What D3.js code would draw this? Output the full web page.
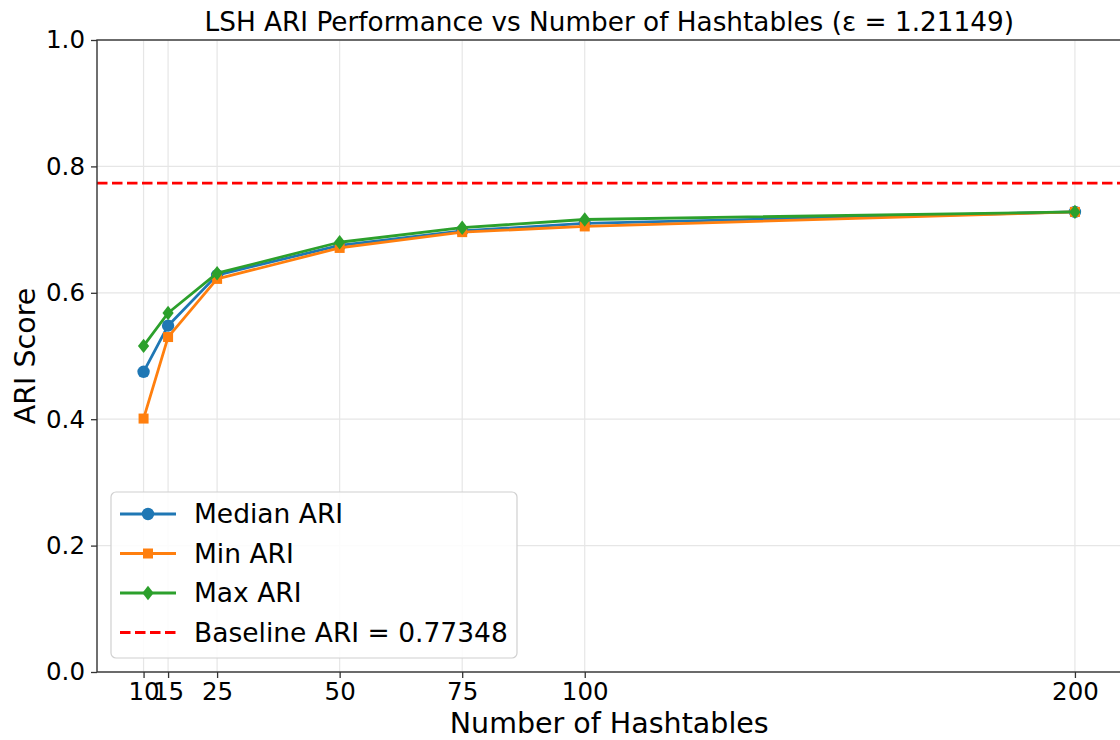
<!DOCTYPE html>
<html>
<head>
<meta charset="utf-8">
<script src="https://cdn.jsdelivr.net/npm/d3@7"></script>
<style>
  body { margin: 0; background: #fff; }
  svg { display: block; font-family: "DejaVu Sans", sans-serif; }
</style>
</head>
<body>
<div id="chart"></div>
<script>
// data
var hashtables = [10, 15, 25, 50, 75, 100, 200];
var medianARI = [0.475, 0.548, 0.628, 0.675, 0.698, 0.710, 0.728];
var minARI    = [0.401, 0.530, 0.622, 0.671, 0.696, 0.705, 0.728];
var maxARI    = [0.516, 0.568, 0.631, 0.680, 0.703, 0.716, 0.728];
var baselineARI = 0.77348;
var yTicks = [0.0, 0.2, 0.4, 0.6, 0.8, 1.0];

var width = 1120, height = 740;
var margin = {top: 40, left: 97, bottom: 68};
var plotRight = 1121.5;

var svg = d3.select("#chart").append("svg")
  .attr("width", width)
  .attr("height", height);

// matplotlib-ish 5% margins around 10..200
var x = d3.scaleLinear().domain([0.5, 209.5]).range([margin.left, plotRight]);
var y = d3.scaleLinear().domain([0, 1]).range([height - margin.bottom, margin.top]);

var gridColor = "#e6e6e6";

// grid lines
svg.append("g").selectAll("line.gx")
  .data(hashtables).enter().append("line")
  .attr("x1", d => x(d)).attr("x2", d => x(d))
  .attr("y1", y(0)).attr("y2", y(1))
  .attr("stroke", gridColor).attr("stroke-width", 1.2);

svg.append("g").selectAll("line.gy")
  .data(yTicks).enter().append("line")
  .attr("x1", x.range()[0]).attr("x2", x.range()[1])
  .attr("y1", d => y(d)).attr("y2", d => y(d))
  .attr("stroke", gridColor).attr("stroke-width", 1.2);

// baseline
svg.append("line")
  .attr("x1", x.range()[0]).attr("x2", x.range()[1])
  .attr("y1", y(baselineARI)).attr("y2", y(baselineARI))
  .attr("stroke", "#ff0000").attr("stroke-width", 2.8)
  .attr("stroke-dasharray", "10.5,4.5");

var series = [
  {name: "Median ARI", values: medianARI, color: "#1f77b4", marker: "circle"},
  {name: "Min ARI", values: minARI, color: "#ff7f0e", marker: "square"},
  {name: "Max ARI", values: maxARI, color: "#2ca02c", marker: "diamond"}
];

var line = d3.line().x(d => x(d[0])).y(d => y(d[1]));

function drawMarker(g, kind, cx, cy, color) {
  if (kind == "circle") {
    g.append("circle").attr("cx", cx).attr("cy", cy).attr("r", 6.2).attr("fill", color);
  } else if (kind == "square") {
    g.append("rect").attr("x", cx - 5).attr("y", cy - 5).attr("width", 10).attr("height", 10).attr("fill", color);
  } else {
    var s = 7.2;
    g.append("path")
      .attr("d", "M" + cx + "," + (cy - s) + "L" + (cx + s * 0.78) + "," + cy + "L" + cx + "," + (cy + s) + "L" + (cx - s * 0.78) + "," + cy + "Z")
      .attr("fill", color);
  }
}

series.forEach(function(s) {
  var pts = hashtables.map((h, i) => [h, s.values[i]]);
  var g = svg.append("g");
  g.append("path")
    .attr("d", line(pts))
    .attr("fill", "none")
    .attr("stroke", s.color)
    .attr("stroke-width", 2.8)
    .attr("stroke-linejoin", "round");
  pts.forEach(p => drawMarker(g, s.marker, x(p[0]), y(p[1]), s.color));
});

// spines
var axisColor = "#333";
svg.append("rect")
  .attr("x", x.range()[0]).attr("y", y(1))
  .attr("width", x.range()[1] - x.range()[0]).attr("height", y(0) - y(1))
  .attr("fill", "none").attr("stroke", axisColor).attr("stroke-width", 1.4);

// axes via d3
var xAxis = svg.append("g")
  .attr("transform", "translate(0," + y(0) + ")")
  .call(d3.axisBottom(x).tickValues(hashtables).tickSize(6).tickPadding(5).tickFormat(d3.format("d")));
var yAxis = svg.append("g")
  .attr("transform", "translate(" + x.range()[0] + ",0)")
  .call(d3.axisLeft(y).tickValues(yTicks).tickSize(6).tickPadding(6).tickFormat(d3.format(".1f")));

[xAxis, yAxis].forEach(function(a) {
  a.select(".domain").remove();
  a.selectAll(".tick line").attr("stroke", axisColor).attr("stroke-width", 1.3);
  a.selectAll(".tick text")
    .attr("fill", "#000")
    .style("font-family", "DejaVu Sans, sans-serif")
    .style("font-size", "24.5px");
});

// title and axis labels
svg.append("text")
  .attr("x", (x.range()[0] + x.range()[1]) / 2)
  .attr("y", 31)
  .attr("text-anchor", "middle")
  .style("font-size", "26.3px")
  .text("LSH ARI Performance vs Number of Hashtables (ε = 1.21149)");

svg.append("text")
  .attr("x", (x.range()[0] + x.range()[1]) / 2)
  .attr("y", 733)
  .attr("text-anchor", "middle")
  .style("font-size", "28.5px")
  .text("Number of Hashtables");

svg.append("text")
  .attr("transform", "translate(35," + (y(0) + y(1)) / 2 + ") rotate(-90)")
  .attr("text-anchor", "middle")
  .style("font-size", "28.5px")
  .text("ARI Score");

// legend
var legend = svg.append("g").attr("transform", "translate(111,492)");
legend.append("rect")
  .attr("width", 406).attr("height", 166)
  .attr("rx", 5)
  .attr("fill", "#fff").attr("fill-opacity", 0.85)
  .attr("stroke", "#d0d0d0").attr("stroke-width", 1.2);

var legendItems = series.concat([{name: "Baseline ARI = " + baselineARI, color: "#ff0000", marker: null}]);
legendItems.forEach(function(s, i) {
  var ly = 22 + i * 39.5;
  var g = legend.append("g");
  g.append("line")
    .attr("x1", 9).attr("x2", 65)
    .attr("y1", ly).attr("y2", ly)
    .attr("stroke", s.color).attr("stroke-width", 2.8)
    .attr("stroke-dasharray", s.marker ? null : "10.5,4.5");
  if (s.marker) drawMarker(g, s.marker, 37, ly, s.color);
  g.append("text")
    .attr("x", 83).attr("y", ly + 9)
    .style("font-size", "26.5px")
    .text(s.name);
});
</script>
</body>
</html>
